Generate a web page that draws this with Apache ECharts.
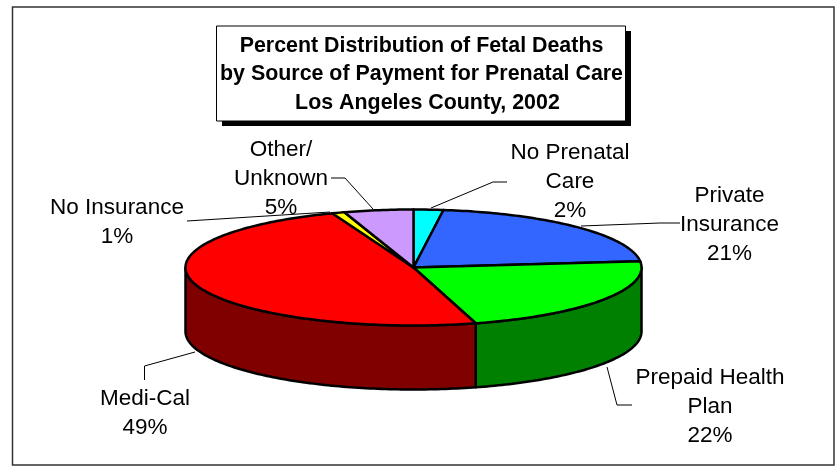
<!DOCTYPE html>
<html>
<head>
<meta charset="utf-8">
<style>html,body{margin:0;padding:0;background:#fff;}#chart{width:840px;height:466px;}</style>
<script src="https://cdn.jsdelivr.net/npm/echarts@6/dist/echarts.min.js"></script>
</head>
<body>
<div id="chart"></div>
<script>
var categories = ['No Prenatal\nCare', 'Private\nInsurance', 'Prepaid Health\nPlan', 'Medi-Cal', 'No Insurance', 'Other/\nUnknown'];
var shares = [2.1, 21.2, 22.3, 48.6, 0.9, 4.9];
var topColors = ['#00ffff', '#3366ff', '#00ff00', '#ff0000', '#ffff00', '#cc99ff'];
var sideColors = ['#008080', '#1f3d99', '#008000', '#800000', '#808000', '#7a5c99'];
var titleLines = ['Percent Distribution of Fetal Deaths', 'by Source of Payment for Prenatal Care', '  Los Angeles County, 2002'];

// label centres and leader lines, pixels
var labelPos = [[570, 182], [729.5, 225], [710, 406.5], [145, 413.5], [117, 222], [281, 179]];
var leaders = [
    [[431, 208], [493, 182], [507, 182]],
    [[581, 226], [660, 223], [680, 223]],
    [[607, 367], [617, 405], [632, 405]],
    [[195, 352], [144.5, 366], [144.5, 380]],
    [[187, 221], [330, 212]],
    [[331, 178], [345, 178], [373, 209]]
];

var cx = 413.5, cy = 267.5, rx = 228, ry = 58, depth = 64;

function ellipsePoint(deg, dy) {
    var a = deg * Math.PI / 180;
    return [cx + rx * Math.sin(a), cy - ry * Math.cos(a) + dy];
}

var starts = [], total = 0;
shares.forEach(function (v) { starts.push(total); total += v; });

function sliceAngles(i) {
    return [starts[i] / total * 360, (starts[i] + shares[i]) / total * 360];
}

function renderSide(params) {
    var i = params.dataIndex;
    var r = sliceAngles(i);
    var a0 = Math.max(r[0], 90), a1 = Math.min(r[1], 270);
    if (a1 <= a0) return { type: 'group', children: [] };
    var pts = [], d;
    for (d = a0; d < a1; d += 1) pts.push(ellipsePoint(d, 0));
    pts.push(ellipsePoint(a1, 0));
    for (d = a1; d > a0; d -= 1) pts.push(ellipsePoint(d, depth));
    pts.push(ellipsePoint(a0, depth));
    return {
        type: 'polygon',
        shape: { points: pts },
        style: { fill: sideColors[i], stroke: '#000', lineWidth: 2.5, lineJoin: 'round' }
    };
}

function renderTop(params) {
    var i = params.dataIndex;
    var r = sliceAngles(i);
    var pts = [[cx, cy]];
    for (var d = r[0]; d < r[1]; d += 1) pts.push(ellipsePoint(d, 0));
    pts.push(ellipsePoint(r[1], 0));
    return {
        type: 'polygon',
        shape: { points: pts },
        style: { fill: topColors[i], stroke: '#000', lineWidth: 2.5, lineJoin: 'round' }
    };
}

function renderLabel(params) {
    var i = params.dataIndex;
    return {
        type: 'group',
        children: [
            {
                type: 'polyline',
                shape: { points: leaders[i] },
                style: { fill: null, stroke: '#000', lineWidth: 1 }
            },
            {
                type: 'text',
                x: labelPos[i][0],
                y: labelPos[i][1],
                style: {
                    text: categories[i] + '\n' + Math.round(shares[i]) + '%',
                    fill: '#000',
                    font: '22.5px "Liberation Sans"',
                    lineHeight: 29,
                    align: 'center',
                    verticalAlign: 'middle'
                }
            }
        ]
    };
}

var sliceData = shares.map(function (v, i) { return { name: categories[i], value: v }; });

var myChart = echarts.init(document.getElementById('chart'), null, { renderer: 'canvas' });
myChart.setOption({
    animation: false,
    backgroundColor: '#fff',
    graphic: [
        { type: 'rect', shape: { x: 12.5, y: 7, width: 821.5, height: 458 }, style: { fill: '#fff', stroke: '#333', lineWidth: 1.5 }, z: 0 },
        { type: 'rect', shape: { x: 222, y: 31, width: 409, height: 95 }, style: { fill: '#000' }, z: 1 },
        { type: 'rect', shape: { x: 216.5, y: 26, width: 409, height: 95 }, style: { fill: '#fff', stroke: '#000', lineWidth: 1 }, z: 2 },
        {
            type: 'text', x: 421.5, y: 74.5, z: 3,
            style: {
                text: titleLines.join('\n'),
                fill: '#000',
                font: 'bold 21.4px "Liberation Sans"',
                lineHeight: 28.5,
                align: 'center',
                verticalAlign: 'middle'
            }
        }
    ],
    series: [
        { type: 'custom', coordinateSystem: 'none', renderItem: renderSide, data: sliceData, z: 5, silent: true },
        { type: 'custom', coordinateSystem: 'none', renderItem: renderLabel, data: sliceData, z: 6, silent: true },
        { type: 'custom', coordinateSystem: 'none', renderItem: renderTop, data: sliceData, z: 7, silent: true }
    ]
});
</script>
</body>
</html>
